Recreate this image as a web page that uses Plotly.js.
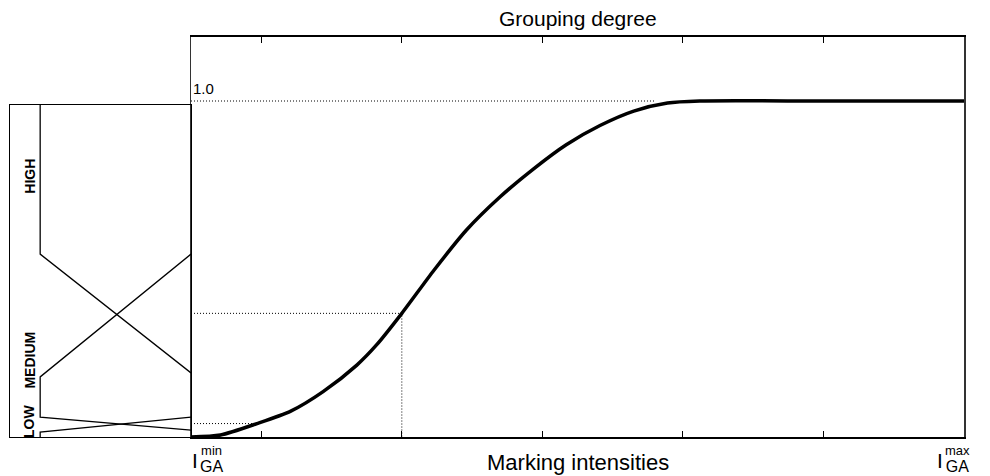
<!DOCTYPE html>
<html>
<head>
<meta charset="utf-8">
<script src="https://cdn.plot.ly/plotly-3.0.1.min.js"></script>
<style>html,body{margin:0;padding:0;background:#fff;}#chart{width:990px;height:476px;}</style>
</head>
<body>
<div id="chart"></div>
<script>
// Main curve: grouping degree vs marking intensity (x in tick units, I_GA min = 0, I_GA max = 5.5)
const intensity = [0, 0.21, 0.47, 0.71, 0.94, 1.18, 1.32, 1.5, 1.73, 1.96, 2.2, 2.44, 2.67, 2.91, 3.15, 3.39, 3.62, 4.5, 5.5];
const degree    = [0, 0.006, 0.04, 0.077, 0.135, 0.214, 0.274, 0.368, 0.497, 0.616, 0.715, 0.799, 0.870, 0.927, 0.970, 0.994, 1.0, 1.0, 1.0];
const tickPositions = [0.5, 1.5, 2.5, 3.5, 4.5];

// Dotted guide lines
const guideTopX = [0, 3.3],  guideTopY = [1.0, 1.0];
const guideMidX = [0, 1.5, 1.5], guideMidY = [0.368, 0.368, -0.015];
const guideLowX = [0, 0.47], guideLowY = [0.04, 0.04];

// Membership functions (left panel): membership value vs grouping degree
const highMu = [1, 1, 0],          highDeg = [1.0, 0.551, 0.193];
const mediumMu = [0, 1, 1, 0],     mediumDeg = [0.551, 0.181, 0.060, 0.021];
const lowMu = [1, 1, 0],           lowDeg = [0.0, 0.015, 0.060];
const labels = ['HIGH', 'MEDIUM', 'LOW'];
const labelDeg = [0.786, 0.232, 0.047];

const FONT = 'Liberation Sans, Arial, sans-serif';
const dotted = {color: '#000', width: 1, dash: '1px,2px'};

const traces = [
  {x: guideTopX, y: guideTopY, mode: 'lines', line: dotted, xaxis: 'x', yaxis: 'y', hoverinfo: 'skip'},
  {x: guideMidX, y: guideMidY, mode: 'lines', line: dotted, xaxis: 'x', yaxis: 'y', hoverinfo: 'skip', cliponaxis: false},
  {x: guideLowX, y: guideLowY, mode: 'lines', line: dotted, xaxis: 'x', yaxis: 'y', hoverinfo: 'skip'},
  {x: intensity, y: degree, mode: 'lines', line: {color: '#000', width: 3.5, shape: 'spline', smoothing: 0.7}, xaxis: 'x', yaxis: 'y'},
  {x: highMu, y: highDeg, mode: 'lines', line: {color: '#000', width: 1.3}, xaxis: 'x2', yaxis: 'y2'},
  {x: mediumMu, y: mediumDeg, mode: 'lines', line: {color: '#000', width: 1.3}, xaxis: 'x2', yaxis: 'y2'},
  {x: lowMu, y: lowDeg, mode: 'lines', line: {color: '#000', width: 1.3}, xaxis: 'x2', yaxis: 'y2'}
];

const subStack = (sup) => sup + '<br><span style="font-size:16px">GA</span>';

const annotations = [
  {xref: 'x', yref: 'paper', x: 2.75, y: 1, yanchor: 'bottom', yshift: 5, showarrow: false,
   text: 'Grouping degree', font: {family: FONT, size: 21, color: '#000'}},
  {xref: 'x', yref: 'paper', x: 2.75, y: 0, yanchor: 'middle', yshift: -25, showarrow: false,
   text: 'Marking intensities', font: {family: FONT, size: 22, color: '#000'}},
  {xref: 'x', yref: 'y', x: 0, y: 1.0, xanchor: 'left', yanchor: 'bottom', xshift: 0, yshift: 2, showarrow: false,
   text: '1.0', font: {family: FONT, size: 15, color: '#000'}},
  // I_GA min
  {xref: 'x', yref: 'paper', x: 0, y: 0, xanchor: 'right', yanchor: 'middle', xshift: 9, yshift: -23, showarrow: false,
   text: 'I', font: {family: FONT, size: 21, color: '#000'}},
  {xref: 'x', yref: 'paper', x: 0, y: 0, xanchor: 'left', yanchor: 'middle', xshift: 8, yshift: -22, borderpad: 0, showarrow: false,
   text: subStack('min'), font: {family: FONT, size: 13, color: '#000'}},
  // I_GA max
  {xref: 'x', yref: 'paper', x: 5.5, y: 0, xanchor: 'right', yanchor: 'middle', xshift: -19, yshift: -23, showarrow: false,
   text: 'I', font: {family: FONT, size: 21, color: '#000'}},
  {xref: 'x', yref: 'paper', x: 5.5, y: 0, xanchor: 'left', yanchor: 'middle', xshift: -20, yshift: -22, borderpad: 0, showarrow: false,
   text: subStack('max'), font: {family: FONT, size: 13, color: '#000'}}
];
labels.forEach((t, i) => annotations.push({
  xref: 'x2', yref: 'y2', x: 1.07, y: labelDeg[i], showarrow: false, textangle: -90,
  text: '<b>' + t + '</b>', font: {family: FONT, size: 14, color: '#000'}
}));

const layout = {
  width: 990, height: 476,
  margin: {l: 10, r: 26, t: 37, b: 39},
  paper_bgcolor: '#fff', plot_bgcolor: 'rgba(0,0,0,0)',
  showlegend: false,
  xaxis: {domain: [0.18973, 1], range: [0, 5.5], showgrid: false, zeroline: false,
          showline: true, mirror: 'ticks', linecolor: '#000', linewidth: 2,
          ticks: 'inside', tickvals: tickPositions, ticklen: 6, tickcolor: '#000', tickwidth: 1,
          showticklabels: false, fixedrange: true},
  yaxis: {domain: [0, 1], range: [0, 1.1905], showgrid: false, zeroline: false,
          showline: true, mirror: true, linecolor: '#333', linewidth: 1.5,
          ticks: '', showticklabels: false, fixedrange: true},
  xaxis2: {domain: [0, 0.18973], range: [1.2, 0], anchor: 'y2', showgrid: false, zeroline: false,
           showline: true, mirror: true, linecolor: '#000', linewidth: 1.2,
           ticks: '', showticklabels: false, fixedrange: true},
  yaxis2: {domain: [0, 0.83], range: [0, 1], anchor: 'x2', showgrid: false, zeroline: false,
           showline: true, mirror: true, linecolor: '#000', linewidth: 1.2,
           ticks: '', showticklabels: false, fixedrange: true},
  annotations: annotations
};

Plotly.newPlot('chart', traces, layout, {staticPlot: true, displayModeBar: false});
</script>
</body>
</html>
